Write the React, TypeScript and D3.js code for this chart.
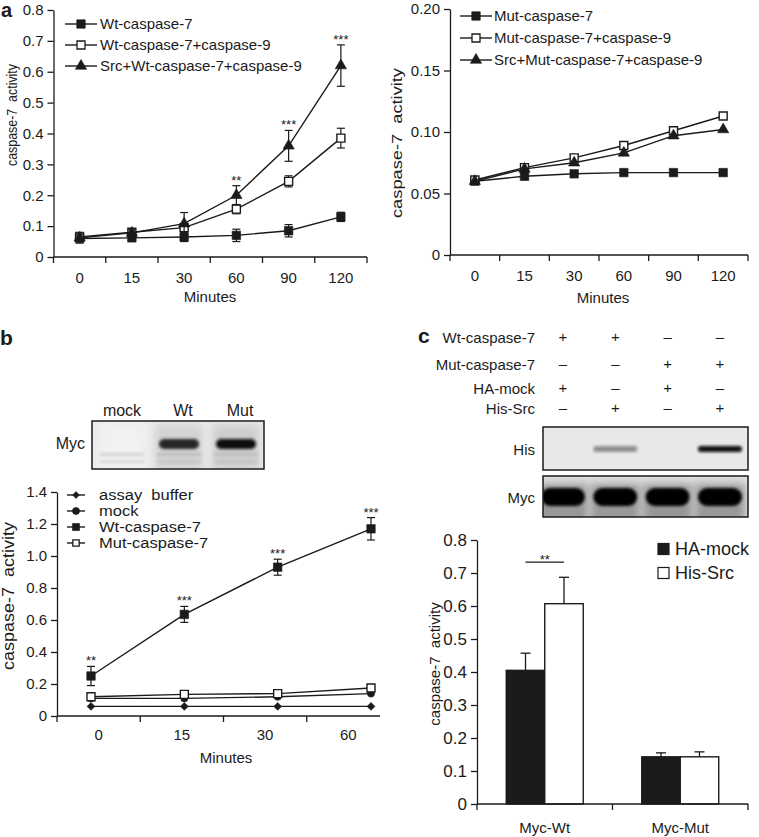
import React, { useRef, useEffect } from 'react';
import * as d3 from 'd3';

const FONT = "'Liberation Sans', Arial, sans-serif";
const INK = '#1b1b1b';

// ---- panel a (left): Wt caspase-7 time course
const minutesA = ['0', '15', '30', '60', '90', '120'];
const wtC7 = [0.06, 0.062, 0.065, 0.07, 0.085, 0.13];
const wtC7Err = [0.015, 0.01, 0.015, 0.02, 0.02, 0.015];
const wtC7C9 = [0.065, 0.08, 0.095, 0.155, 0.245, 0.385];
const wtC7C9Err = [0.015, 0.01, 0.01, 0.015, 0.018, 0.032];
const srcWtC7C9 = [0.062, 0.078, 0.108, 0.2, 0.36, 0.62];
const srcWtC7C9Err = [0.01, 0.01, 0.036, 0.031, 0.05, 0.067];
const starsA = ['', '', '', '**', '***', '***'];
const ticksA = [0, 0.1, 0.2, 0.3, 0.4, 0.5, 0.6, 0.7, 0.8];

// ---- panel a (right): Mut caspase-7 time course
const mutC7 = [0.06, 0.064, 0.066, 0.067, 0.067, 0.067];
const mutC7C9 = [0.061, 0.071, 0.079, 0.089, 0.101, 0.113];
const srcMutC7C9 = [0.06, 0.07, 0.075, 0.083, 0.097, 0.102];
const ticksA2 = [0, 0.05, 0.1, 0.15, 0.2];

// ---- panel b
const minutesB = ['0', '15', '30', '60'];
const assayBuffer = [0.06, 0.06, 0.06, 0.06];
const mockB = [0.11, 0.11, 0.12, 0.14];
const wtB = [0.25, 0.635, 0.93, 1.17];
const wtBErr = [0.06, 0.05, 0.05, 0.07];
const mutB = [0.12, 0.135, 0.14, 0.175];
const starsB = ['**', '***', '***', '***'];
const ticksB = [0, 0.2, 0.4, 0.6, 0.8, 1.0, 1.2, 1.4];
const blotBLanes = ['mock', 'Wt', 'Mut'];
const blotBMyc = [0.06, 0.88, 0.96];

// ---- panel c
const signLabels = ['Wt-caspase-7', 'Mut-caspase-7', 'HA-mock', 'His-Src'];
const signs = [
  ['+', '+', '–', '–'],
  ['–', '–', '+', '+'],
  ['+', '–', '+', '–'],
  ['–', '+', '–', '+'],
];
const blotCHis = [0.0, 0.5, 0.0, 0.93];
const blotCMyc = [0.97, 0.95, 1.0, 0.98];
const groupsC = ['Myc-Wt', 'Myc-Mut'];
const seriesC = ['HA-mock', 'His-Src'];
const haMock = [0.405, 0.143];
const haMockErr = [0.052, 0.012];
const hisSrc = [0.607, 0.143];
const hisSrcErr = [0.08, 0.015];
const ticksC = [0, 0.1, 0.2, 0.3, 0.4, 0.5, 0.6, 0.7, 0.8];

const App = () => {
  const ref = useRef<SVGSVGElement>(null);

  useEffect(() => {
    const svg = d3.select(ref.current).html('').attr('font-family', FONT);
    const defs = svg.append('defs');
    defs.append('filter').attr('id', 'bandBlur').attr('x', '-30%').attr('y', '-100%').attr('width', '160%').attr('height', '300%')
      .append('feGaussianBlur').attr('stdDeviation', 1.8);
    defs.append('filter').attr('id', 'softBlur').attr('x', '-30%').attr('y', '-60%').attr('width', '160%').attr('height', '220%')
      .append('feGaussianBlur').attr('stdDeviation', 4);

    const txt = (g: any, x: number, y: number, s: string, size: number, anchor = 'start', weight = 'normal') =>
      g.append('text').attr('x', x).attr('y', y).text(s).attr('font-size', size).attr('fill', INK)
        .attr('text-anchor', anchor).attr('font-weight', weight).attr('style', 'white-space:pre');

    const yLabel = (x: number, cy: number, size: number, len?: number) => {
      const t = svg.append('text').attr('transform', `translate(${x},${cy}) rotate(-90)`).attr('text-anchor', 'middle')
        .attr('font-size', size).attr('fill', INK).attr('style', 'white-space:pre').text('caspase-7  activity');
      if (len) t.attr('textLength', len).attr('lengthAdjust', 'spacingAndGlyphs');
    };

    const yAxis = (x: number, y: any, ticks: number[], fmt: (v: number) => string, size: number) => {
      const ax = svg.append('g').attr('transform', `translate(${x},0)`)
        .call(d3.axisLeft(y).tickValues(ticks).tickFormat(fmt as any).tickSize(6).tickSizeOuter(0).tickPadding(4));
      ax.select('.domain').attr('stroke', INK).attr('stroke-width', 1.3);
      ax.selectAll('line').attr('stroke', INK).attr('stroke-width', 1.3);
      ax.selectAll('text').attr('font-size', size).attr('fill', INK).attr('font-family', FONT);
    };

    const xAxis = (xb: any, y0: number, labelY: number, size: number, xEnd?: number) => {
      const [r0, r1] = xb.range();
      const end = xEnd ?? r1;
      svg.append('line').attr('x1', r0).attr('x2', end).attr('y1', y0).attr('y2', y0)
        .attr('stroke', INK).attr('stroke-width', 1.3);
      const bounds = xb.domain().map((d: string) => xb(d)).concat([r1]).filter((b: number) => b <= end + 0.5);
      bounds.forEach((b: number) => svg.append('line').attr('x1', b).attr('x2', b).attr('y1', y0).attr('y2', y0 + 6)
        .attr('stroke', INK).attr('stroke-width', 1.3));
      xb.domain().forEach((d: string) => txt(svg, xb(d) + xb.bandwidth() / 2, labelY, d, size, 'middle'));
    };

    const series = (g: any, xs: (i: number) => number, y: any, vals: number[], errs: number[] | null,
      sym: d3.SymbolType, open: boolean, size: number, cap = 8) => {
      const pts: [number, number][] = vals.map((v, i) => [xs(i), y(v)]);
      if (errs) {
        errs.forEach((e, i) => {
          if (!e) return;
          const x = xs(i);
          const t = y(vals[i] + e);
          const b = y(vals[i] - e);
          g.append('line').attr('x1', x).attr('x2', x).attr('y1', t).attr('y2', b).attr('stroke', INK).attr('stroke-width', 1.2);
          [t, b].forEach(yy => g.append('line').attr('x1', x - cap / 2).attr('x2', x + cap / 2).attr('y1', yy).attr('y2', yy)
            .attr('stroke', INK).attr('stroke-width', 1.2));
        });
      }
      g.append('path').attr('d', d3.line()(pts)).attr('fill', 'none').attr('stroke', INK).attr('stroke-width', 1.4);
      g.selectAll(null).data(pts).join('path')
        .attr('transform', (d: [number, number]) => `translate(${d[0]},${d[1]})`)
        .attr('d', d3.symbol(sym, size)())
        .attr('fill', open ? '#fff' : INK).attr('stroke', INK).attr('stroke-width', open ? 1.4 : 0.6);
    };

    // stretch = widen glyphs horizontally (the small legend in b is squashed vertically)
    const legend = (x1: number, x2: number, tx: number, rows: number[], items: any[], size: number, stretch = 1) => {
      items.forEach((it, i) => {
        const cy = rows[i];
        svg.append('line').attr('x1', x1).attr('x2', x2).attr('y1', cy).attr('y2', cy).attr('stroke', INK).attr('stroke-width', 1.4);
        svg.append('path').attr('transform', `translate(${(x1 + x2) / 2},${cy})`).attr('d', d3.symbol(it.sym, it.size)())
          .attr('fill', it.open ? '#fff' : INK).attr('stroke', INK).attr('stroke-width', it.open ? 1.3 : 0.6);
        const t = txt(svg, tx, cy + size * 0.36, it.name, size);
        if (stretch !== 1) {
          const w = (t.node() as SVGTextElement).getComputedTextLength();
          t.attr('textLength', w * stretch).attr('lengthAdjust', 'spacingAndGlyphs');
        }
      });
    };

    const fmt1 = (v: number) => (v === 0 ? '0' : v.toFixed(1));
    const fmt2 = (v: number) => (v === 0 ? '0' : v.toFixed(2));

    // ================= panel a left
    txt(svg, 1, 17, 'a', 20, 'start', 'bold');
    const xA = d3.scaleBand().domain(minutesA).range([53.5, 367]);
    const yA = d3.scaleLinear().domain([0, 0.8]).range([257, 10]);
    const cxA = (i: number) => (xA(minutesA[i]) as number) + xA.bandwidth() / 2;
    yAxis(53.5, yA, ticksA, fmt1, 15);
    xAxis(xA, 257, 283, 15);
    txt(svg, 210, 302, 'Minutes', 15, 'middle');
    yLabel(17, 115, 15, 102);
    const gA = svg.append('g');
    series(gA, cxA, yA, wtC7, wtC7Err, d3.symbolSquare, false, 72);
    series(gA, cxA, yA, wtC7C9, wtC7C9Err, d3.symbolSquare, true, 64);
    series(gA, cxA, yA, srcWtC7C9, srcWtC7C9Err, d3.symbolTriangle, false, 55);
    starsA.forEach((s, i) => {
      if (!s) return;
      txt(gA, cxA(i), yA(srcWtC7C9[i] + srcWtC7C9Err[i]) - 1, s, 13, 'middle');
    });
    legend(65, 97, 100, [24, 45, 66], [
      { name: 'Wt-caspase-7', sym: d3.symbolSquare, size: 72, open: false },
      { name: 'Wt-caspase-7+caspase-9', sym: d3.symbolSquare, size: 64, open: true },
      { name: 'Src+Wt-caspase-7+caspase-9', sym: d3.symbolTriangle, size: 55, open: false },
    ], 15);

    // ================= panel a right
    const xA2 = d3.scaleBand().domain(minutesA).range([450, 748]);
    const yA2 = d3.scaleLinear().domain([0, 0.2]).range([255, 9]);
    const cxA2 = (i: number) => (xA2(minutesA[i]) as number) + xA2.bandwidth() / 2;
    yAxis(450, yA2, ticksA2, fmt2, 15);
    xAxis(xA2, 255, 281, 15);
    txt(svg, 603, 303, 'Minutes', 15, 'middle');
    yLabel(402, 143, 15, 150);
    const gA2 = svg.append('g');
    series(gA2, cxA2, yA2, mutC7, null, d3.symbolSquare, false, 72);
    series(gA2, cxA2, yA2, mutC7C9, null, d3.symbolSquare, true, 64);
    series(gA2, cxA2, yA2, srcMutC7C9, null, d3.symbolTriangle, false, 55);
    legend(460, 492, 494, [16, 38, 60], [
      { name: 'Mut-caspase-7', sym: d3.symbolSquare, size: 72, open: false },
      { name: 'Mut-caspase-7+caspase-9', sym: d3.symbolSquare, size: 64, open: true },
      { name: 'Src+Mut-caspase-7+caspase-9', sym: d3.symbolTriangle, size: 55, open: false },
    ], 15);

    // ================= panel b blot
    txt(svg, 0, 345, 'b', 21, 'start', 'bold');
    const laneB = d3.scalePoint().domain(blotBLanes).range([122, 236]);
    const blotB = svg.append('g');
    blotB.append('clipPath').attr('id', 'clipB').append('rect').attr('x', 92).attr('y', 421).attr('width', 172).attr('height', 48);
    const bb = blotB.append('g').attr('clip-path', 'url(#clipB)');
    bb.append('rect').attr('x', 92).attr('y', 421).attr('width', 172).attr('height', 48).attr('fill', '#ebebeb');
    blotBLanes.forEach((l, i) => {
      const cx = laneB(l) as number;
      const k = blotBMyc[i];
      bb.append('rect').attr('x', cx - 24).attr('y', 424).attr('width', 48).attr('height', 48)
        .attr('fill', d3.interpolateGreys(0.1 + k * 0.2)).attr('filter', 'url(#softBlur)');
      bb.append('rect').attr('x', cx - 22).attr('y', 453).attr('width', 44).attr('height', 3)
        .attr('fill', d3.interpolateGreys(0.28 + k * 0.1)).attr('filter', 'url(#bandBlur)');
      bb.append('rect').attr('x', cx - 22).attr('y', 460).attr('width', 44).attr('height', 3)
        .attr('fill', d3.interpolateGreys(0.25 + k * 0.1)).attr('filter', 'url(#bandBlur)');
      if (k > 0.1) {
        bb.append('rect').attr('x', cx - 20).attr('y', 439).attr('width', 40).attr('height', 10).attr('rx', 5)
          .attr('fill', d3.interpolateGreys(k)).attr('filter', 'url(#bandBlur)');
      }
    });
    blotB.append('rect').attr('x', 92).attr('y', 421).attr('width', 172).attr('height', 48)
      .attr('fill', 'none').attr('stroke', INK).attr('stroke-width', 1.5);
    blotBLanes.forEach(l => txt(svg, (laneB(l) as number) + (l === 'mock' ? 0 : 4), 416, l, 16, 'middle'));
    txt(svg, 85, 449, 'Myc', 16, 'end');

    // ================= panel b chart
    const xB = d3.scaleBand().domain(minutesB).range([57, 390]);
    const pB = d3.scalePoint().domain(minutesB).range([91, 371]);
    const yB = d3.scaleLinear().domain([0, 1.4]).range([716, 492]);
    const cxB = (i: number) => pB(minutesB[i]) as number;
    yAxis(57, yB, ticksB, fmt1, 15);
    xAxis(xB, 716, 740, 15, 380);
    txt(svg, 226, 763, 'Minutes', 15, 'middle');
    yLabel(14, 596, 16, 148);
    const gB = svg.append('g');
    series(gB, cxB, yB, assayBuffer, null, d3.symbolDiamond2, false, 40);
    series(gB, cxB, yB, mockB, null, d3.symbolCircle, false, 40);
    series(gB, cxB, yB, mutB, null, d3.symbolSquare, true, 64);
    series(gB, cxB, yB, wtB, wtBErr, d3.symbolSquare, false, 72);
    starsB.forEach((s, i) => txt(gB, cxB(i), yB(wtB[i] + wtBErr[i]) - 1, s, 13, 'middle'));
    legend(67, 85, 99, [495, 511, 527, 543], [
      { name: 'assay  buffer', sym: d3.symbolDiamond2, size: 30, open: false },
      { name: 'mock', sym: d3.symbolCircle, size: 40, open: false },
      { name: 'Wt-caspase-7', sym: d3.symbolSquare, size: 50, open: false },
      { name: 'Mut-caspase-7', sym: d3.symbolSquare, size: 40, open: true },
    ], 14, 1.18);

    // ================= panel c sign table
    txt(svg, 418, 343, 'c', 21, 'start', 'bold');
    const laneC = d3.scalePoint().domain(['1', '2', '3', '4']).range([563, 720]);
    const lanesC = laneC.domain();
    const signY = [343, 370, 394, 414];
    signLabels.forEach((lab, r) => {
      txt(svg, 535, signY[r], lab, 15, 'end');
      signs[r].forEach((s, c) => txt(svg, laneC(lanesC[c]) as number, signY[r] - 1, s, 15, 'middle'));
    });

    const blot = (id: string, x: number, y: number, w: number, h: number, vals: number[], bandY: number, bandH: number, bg: string, smear: boolean) => {
      const g = svg.append('g');
      g.append('clipPath').attr('id', id).append('rect').attr('x', x).attr('y', y).attr('width', w).attr('height', h);
      const inner = g.append('g').attr('clip-path', `url(#${id})`);
      inner.append('rect').attr('x', x).attr('y', y).attr('width', w).attr('height', h).attr('fill', bg);
      vals.forEach((k, i) => {
        const cx = laneC(lanesC[i]) as number;
        if (smear) {
          inner.append('rect').attr('x', cx - 25).attr('y', y + 8).attr('width', 50).attr('height', h)
            .attr('fill', d3.interpolateGreys(0.35 + k * 0.15)).attr('filter', 'url(#softBlur)');
        }
        if (k < 0.05) return;
        inner.append('rect').attr('x', cx - 22).attr('y', bandY - bandH / 2).attr('width', 44).attr('height', bandH).attr('rx', bandH / 2)
          .attr('fill', d3.interpolateGreys(Math.min(1, k * 1.05))).attr('filter', 'url(#bandBlur)');
      });
      g.append('rect').attr('x', x).attr('y', y).attr('width', w).attr('height', h)
        .attr('fill', 'none').attr('stroke', INK).attr('stroke-width', 1.5);
    };
    blot('clipHis', 543, 427, 205, 43, blotCHis, 449, 6, '#e8e8e8', false);
    txt(svg, 535, 455, 'His', 15, 'end');
    blot('clipMyc', 543, 476, 205, 41, blotCMyc, 497, 18, '#e0e0e0', true);
    txt(svg, 535, 503, 'Myc', 15, 'end');

    // ================= panel c bars
    const x0 = d3.scaleBand().domain(groupsC).range([477, 748]);
    const x1 = d3.scaleBand().domain(seriesC).range([0, x0.bandwidth()]).paddingInner(0).paddingOuter(0.76);
    const yC = d3.scaleLinear().domain([0, 0.8]).range([804, 540]);
    const barData = groupsC.flatMap((g, i) => [
      { g, s: 'HA-mock', v: haMock[i], e: haMockErr[i] },
      { g, s: 'His-Src', v: hisSrc[i], e: hisSrcErr[i] },
    ]);
    const gC = svg.append('g');
    barData.forEach(d => {
      const bx = (x0(d.g) as number) + (x1(d.s) as number);
      const cx = bx + x1.bandwidth() / 2;
      gC.append('line').attr('x1', cx).attr('x2', cx).attr('y1', yC(d.v)).attr('y2', yC(d.v + d.e)).attr('stroke', INK).attr('stroke-width', 1.3);
      gC.append('line').attr('x1', cx - 5).attr('x2', cx + 5).attr('y1', yC(d.v + d.e)).attr('y2', yC(d.v + d.e)).attr('stroke', INK).attr('stroke-width', 1.3);
      gC.append('rect').attr('x', bx).attr('y', yC(d.v)).attr('width', x1.bandwidth()).attr('height', yC(0) - yC(d.v))
        .attr('fill', d.s === 'HA-mock' ? INK : '#fff').attr('stroke', INK).attr('stroke-width', 1.4);
    });
    yAxis(477, yC, ticksC, fmt1, 17);
    xAxis(x0, 804, 833, 15);
    yLabel(440, 664, 15);
    // significance bracket
    const sx1 = (x0('Myc-Wt') as number) + (x1('HA-mock') as number) + x1.bandwidth() / 2;
    const sx2 = (x0('Myc-Wt') as number) + (x1('His-Src') as number) + x1.bandwidth() / 2;
    gC.append('line').attr('x1', sx1).attr('x2', sx2).attr('y1', yC(0.733)).attr('y2', yC(0.733)).attr('stroke', INK).attr('stroke-width', 1.2);
    txt(gC, (sx1 + sx2) / 2, yC(0.733) + 2, '**', 13, 'middle');
    // legend
    seriesC.forEach((s, i) => {
      const cy = 549 + i * 24;
      svg.append('rect').attr('x', 658).attr('y', cy - 5.5).attr('width', 11).attr('height', 11)
        .attr('fill', i === 0 ? INK : '#fff').attr('stroke', INK).attr('stroke-width', 1.2);
      txt(svg, 675, cy + 6, s, 18);
    });
  }, []);

  return (
    <svg ref={ref} width={759} height={837}
      style={{ position: 'absolute', left: 0, top: 0, background: '#fff', display: 'block' }} />
  );
};

export default App;
